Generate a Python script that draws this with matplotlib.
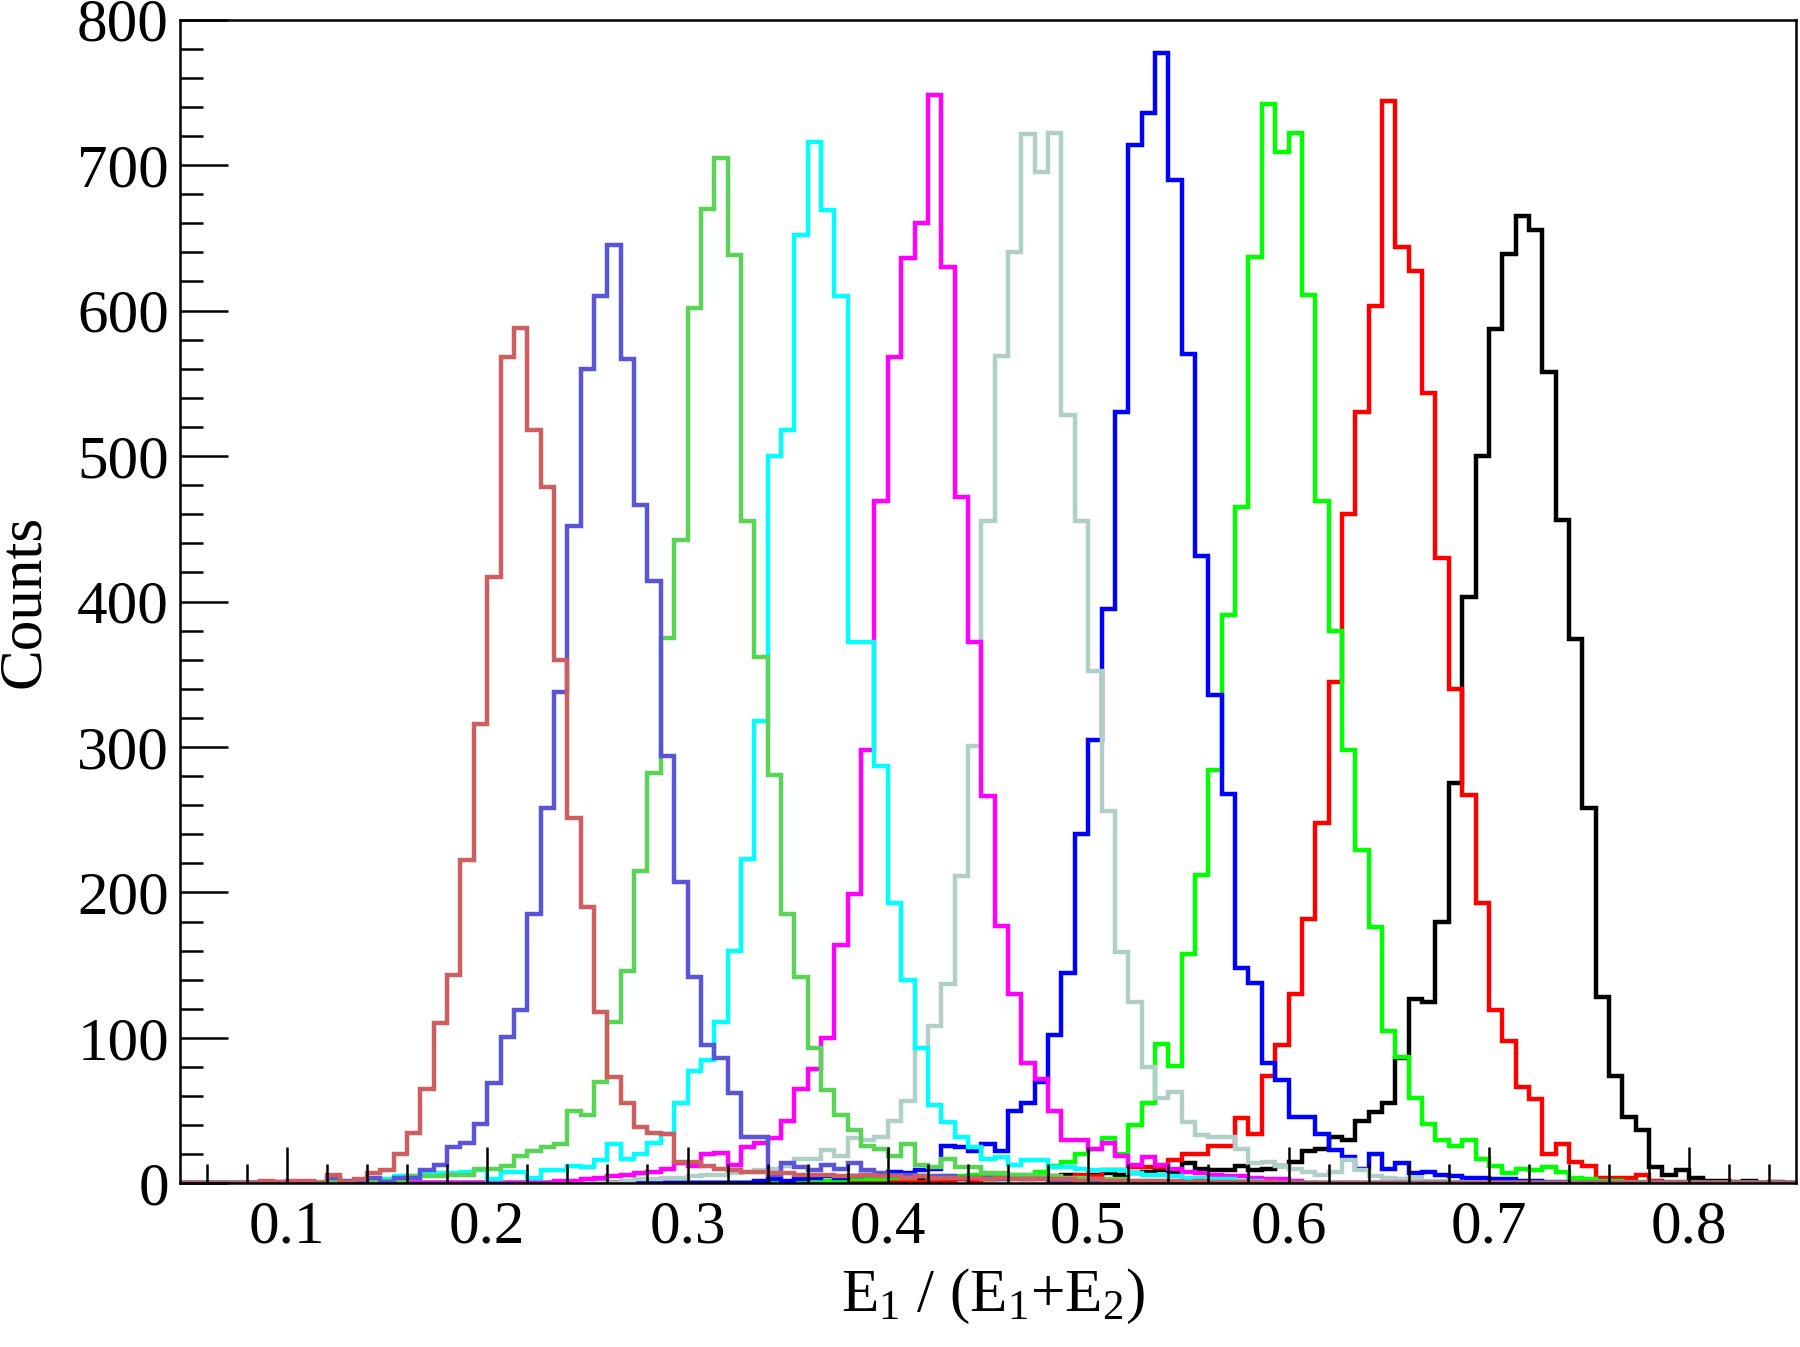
import numpy as np
import matplotlib
matplotlib.use("Agg")
import matplotlib.pyplot as plt

# histogram binning: 150 bins on [0, 1], shown from bin 7 to bin 127
n_bins = 150
first_bin = 7
last_bin = 128

# counts per series: (first bin index, counts)
black_start = 60
black_counts = [2, 2, 3, 2, 3, 3, 4, 3, 4, 4, 5, 5, 4, 6, 5,
                6, 7, 6, 7, 8, 9, 8, 14, 10, 9, 9, 12, 9, 10, 12,
                15, 22, 24, 32, 30, 43, 49, 55, 86, 127, 125, 180, 275, 403, 500,
                587, 639, 665, 655, 558, 456, 374, 258, 128, 74, 46, 37, 11, 6, 9,
                4, 2, 2, 1, 2, 0, 1, 0]

red_start = 60
red_counts = [1, 2, 1, 2, 2, 3, 2, 3, 3, 4, 3, 4, 5, 4, 6, 5,
              9, 9, 11, 11, 11, 16, 20, 20, 26, 26, 45, 34, 74, 95,
              130, 182, 248, 345, 460, 530, 603, 744, 644, 627, 543, 430, 340, 267, 193,
              119, 98, 66, 58, 20, 27, 15, 12, 4, 4, 4, 6, 2, 1, 1]

green_start = 55
green_counts = [2, 2, 3, 3, 3, 4, 4, 5, 4, 5, 5, 6, 5, 6, 6,
                6, 8, 12, 15, 20, 24, 31, 20, 40, 55, 96, 81, 158, 212, 284,
                391, 465, 637, 742, 709, 722, 611, 469, 380, 298, 229, 176, 105, 87, 59,
                41, 30, 26, 30, 17, 12, 7, 10, 9, 11, 8, 4, 3, 2, 2, 1, 1]

blue_start = 50
blue_counts = [2, 3, 2, 3, 4, 5, 4, 5, 6, 6, 8, 7, 9, 10,
               26, 25, 22, 27, 22, 50, 55, 70, 102, 145, 240, 305, 395, 530, 714, 736,
               777, 690, 570, 431, 336, 268, 148, 138, 83, 71, 46, 46, 34, 23, 18,
               10, 20, 10, 14, 7, 8, 6, 5, 4, 4, 3, 3, 2, 2, 1, 1]

grey_start = 40
grey_counts = [2, 3, 3, 4, 4, 5, 6, 6, 7, 8, 9, 10, 12,
               17, 17, 23, 19, 31, 30, 32, 43, 57, 93, 108, 137, 211, 301, 455, 569,
               640, 721, 695, 722, 528, 455, 352, 256, 159, 125, 80, 59, 63, 42, 33,
               32, 32, 24, 14, 15, 12, 10, 8, 6, 8, 16, 9, 5, 4, 3, 4, 2, 2, 1]

magenta_start = 35
magenta_counts = [2, 2, 3, 4, 5, 6, 7, 8, 10,
                  14, 12, 20, 21, 13, 25, 28, 31, 43, 65, 79, 100, 164, 199, 298,
                  469, 568, 636, 660, 748, 630, 472, 372, 266, 177, 130, 83, 72, 50, 30,
                  30, 24, 28, 19, 13, 18, 13, 10, 8, 7, 6, 5, 5, 4, 3, 3, 2]

cyan_start = 20
cyan_counts = [2, 2, 3, 5, 5, 7, 7, 7, 8, 9, 3, 8, 8, 4, 9, 9, 12, 11, 16,
               27, 17, 20, 28, 34, 55, 77, 85, 111, 160, 223, 318, 500, 518, 652,
               716, 669, 610, 372, 372, 287, 193, 140, 93, 54, 42, 32, 25, 17, 18,
               13, 16, 16, 11, 11, 10, 9, 9, 9, 7, 6, 6, 5, 4, 4, 3, 3, 2, 2, 1]

lgreen_start = 15
lgreen_counts = [0, 0, 1, 1, 1, 2, 2, 2, 2, 5, 5, 5, 6, 6, 10, 10, 12, 19, 22, 25,
                 27, 50, 47, 70, 111, 146, 215, 282, 375, 442, 602, 670, 705, 638, 455,
                 362, 281, 185, 142, 93, 64, 47, 37, 26, 24, 19, 27, 13, 11, 17,
                 11, 11, 7, 7, 6, 6, 5, 5, 4, 4, 3, 3, 3, 2, 2, 2, 1]

slate_start = 13
slate_counts = [0, 1, 0, 1, 0, 4, 2, 2, 4, 1, 4, 4, 9, 13, 25, 28, 41, 69, 101, 119,
                185, 258, 338, 452, 560, 610, 645, 567, 466, 414, 294, 207, 142, 95, 86,
                62, 32, 32, 6, 14, 11, 9, 13, 10, 14, 9, 7, 6, 6, 5, 5, 5, 4, 4, 4,
                3, 3, 3, 3, 2, 2, 2, 2, 1, 1]

brown_start = 7
brown_counts = [0, 0, 0, 0, 0, 0, 2, 1, 2, 2, 0, 6, 1, 3, 7, 9, 20, 35, 65, 110,
                143, 222, 316, 417, 568, 588, 518, 479, 360, 251, 190, 118, 73, 55, 39,
                35, 34, 15, 15, 12, 10, 9, 8, 8, 7, 7, 6, 6, 6, 5, 5, 6, 5, 5, 4,
                5, 4, 4, 4, 4, 3, 4, 3, 3, 3, 3, 3, 2, 3, 2, 2, 2, 2, 2, 2,
                1, 2, 1, 1, 1, 1, 1]

series = [
    (black_start, black_counts, "#000000"),
    (red_start, red_counts, "#ff0000"),
    (green_start, green_counts, "#00ff00"),
    (blue_start, blue_counts, "#0000ff"),
    (grey_start, grey_counts, "#b0cfc7"),
    (magenta_start, magenta_counts, "#ff00ff"),
    (cyan_start, cyan_counts, "#00ffff"),
    (lgreen_start, lgreen_counts, "#59d454"),
    (slate_start, slate_counts, "#5954d8"),
    (brown_start, brown_counts, "#cf5e61"),
]

plt.rcParams["font.family"] = ["Liberation Serif", "DejaVu Serif"]
plt.rcParams["mathtext.fontset"] = "custom"
plt.rcParams["mathtext.rm"] = "Liberation Serif"
plt.rcParams["mathtext.it"] = "Liberation Serif"

fig = plt.figure(figsize=(18, 13.47), dpi=100)
ax = fig.add_axes([0.1, 0.1214, 0.8978, 0.8641])

edges = np.arange(first_bin, last_bin + 1) / n_bins

for start, counts, color in series:
    full = np.zeros(last_bin - first_bin)
    full[start - first_bin:start - first_bin + len(counts)] = counts
    ax.stairs(full, edges, baseline=0, color=color, linewidth=3.2)

ax.set_xlim(first_bin / n_bins, last_bin / n_bins)
ax.set_ylim(0, 800)

ax.set_xticks(np.arange(0.1, 0.81, 0.1))
ax.set_xticklabels(["0.1", "0.2", "0.3", "0.4", "0.5", "0.6", "0.7", "0.8"])
ax.set_xticks(np.arange(0.06, 0.86, 0.02), minor=True)
ax.set_yticks(np.arange(0, 801, 100))
ax.set_yticks(np.arange(0, 801, 20), minor=True)

ax.tick_params(axis="both", which="both", direction="in", width=1.8,
               top=False, right=False, labelsize=44)
ax.tick_params(axis="x", which="major", length=26, pad=12)
ax.tick_params(axis="x", which="minor", length=13.5)
ax.tick_params(axis="y", which="major", length=34.5, pad=8)
ax.tick_params(axis="y", which="minor", length=16.5)

for side in ax.spines.values():
    side.set_linewidth(1.8)

ax.set_xlabel(r"E$_1$ / (E$_1$+E$_2$)", fontsize=44)
ax.set_ylabel("Counts", fontsize=44)
ax.xaxis.set_label_coords(0.503, -0.072)
ax.yaxis.set_label_coords(-0.079, 0.5)

fig.savefig("out.png", dpi=100)
plt.close(fig)
